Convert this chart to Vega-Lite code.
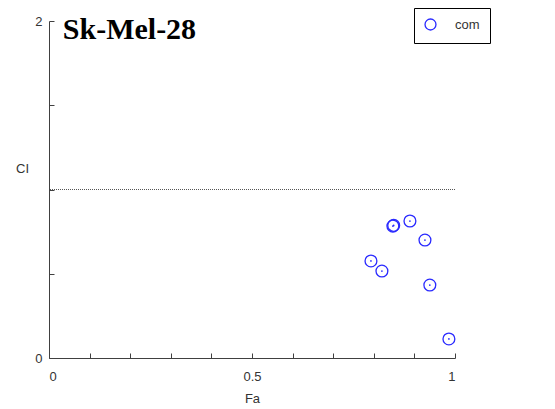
{
  "$schema": "https://vega.github.io/schema/vega-lite/v6.json",
  "autosize": "none",
  "width": 406,
  "height": 337,
  "padding": {"left": 49, "top": 21, "right": 100, "bottom": 51},
  "background": "white",
  "config": {
    "view": {"stroke": null},
    "axis": {"grid": false, "domainColor": "#404040", "tickColor": "#404040", "labelColor": "#333333", "titleColor": "#333333", "labelFont": "Liberation Sans", "titleFont": "Liberation Sans", "labelFontSize": 13, "titleFontSize": 13, "titleFontWeight": "normal"},
    "legend": {"labelFont": "Liberation Sans", "labelFontSize": 13, "labelColor": "#333333"}
  },
  "datasets": {
    "pts": [
      {"Fa": 0.847, "CI": 0.783, "series": "com"},
      {"Fa": 0.849, "CI": 0.787, "series": "com"},
      {"Fa": 0.889, "CI": 0.813, "series": "com"},
      {"Fa": 0.926, "CI": 0.700, "series": "com"},
      {"Fa": 0.793, "CI": 0.576, "series": "com"},
      {"Fa": 0.820, "CI": 0.516, "series": "com"},
      {"Fa": 0.938, "CI": 0.433, "series": "com"},
      {"Fa": 0.985, "CI": 0.113, "series": "com"}
    ]
  },
  "layer": [
    {
      "data": {"values": [{"CI": 1}]},
      "mark": {"type": "rule", "color": "#555555", "strokeDash": [1, 1], "strokeWidth": 1},
      "encoding": {"y": {"field": "CI", "type": "quantitative", "scale": {"domain": [0, 2], "nice": false}}}
    },
    {
      "data": {"name": "pts"},
      "mark": {"type": "point", "filled": false, "shape": "circle", "size": 140, "strokeWidth": 1.3, "opacity": 1},
      "encoding": {
        "x": {"field": "Fa", "type": "quantitative", "scale": {"domain": [0, 1], "nice": false, "zero": false},
          "axis": {"values": [0, 0.1, 0.2, 0.3, 0.4, 0.5, 0.6, 0.7, 0.8, 0.9, 1], "tickSize": -5, "labelPadding": 17,
            "labelExpr": "datum.value == 0 ? '0' : datum.value == 0.5 ? '0.5' : datum.value == 1 ? '1' : ''",
            "title": "Fa", "titleY": 40, "titleBaseline": "middle"}},
        "y": {"field": "CI", "type": "quantitative", "scale": {"domain": [0, 2], "nice": false, "zero": false},
          "axis": {"values": [0, 0.5, 1, 1.5, 2], "tickSize": -5, "labelPadding": 12,
            "labelExpr": "datum.value == 0 ? '0' : datum.value == 2 ? '2' : ''",
            "title": "CI", "titleAngle": 0, "titleX": -27, "titleY": 147, "titleAlign": "center", "titleBaseline": "middle"}},
        "color": {"field": "series", "type": "nominal", "scale": {"range": ["#2a2aff"]},
          "legend": {"title": null, "orient": "none", "legendX": 365, "legendY": -13, "strokeColor": "#000000", "padding": 10,
            "symbolType": "circle", "symbolSize": 120, "symbolStrokeWidth": 1.3, "labelOffset": 18}}
      }
    },
    {
      "data": {"name": "pts"},
      "mark": {"type": "circle", "size": 3, "color": "#2a2aff", "opacity": 1},
      "encoding": {
        "x": {"field": "Fa", "type": "quantitative"},
        "y": {"field": "CI", "type": "quantitative"}
      }
    },
    {
      "data": {"values": [{"label": "Sk-Mel-28", "Fa": 0.034, "CI": 1.893}]},
      "mark": {"type": "text", "font": "Liberation Serif", "fontWeight": "bold", "fontSize": 30, "align": "left", "baseline": "alphabetic", "color": "#000000"},
      "encoding": {
        "x": {"field": "Fa", "type": "quantitative"},
        "y": {"field": "CI", "type": "quantitative"},
        "text": {"field": "label"}
      }
    }
  ]
}
